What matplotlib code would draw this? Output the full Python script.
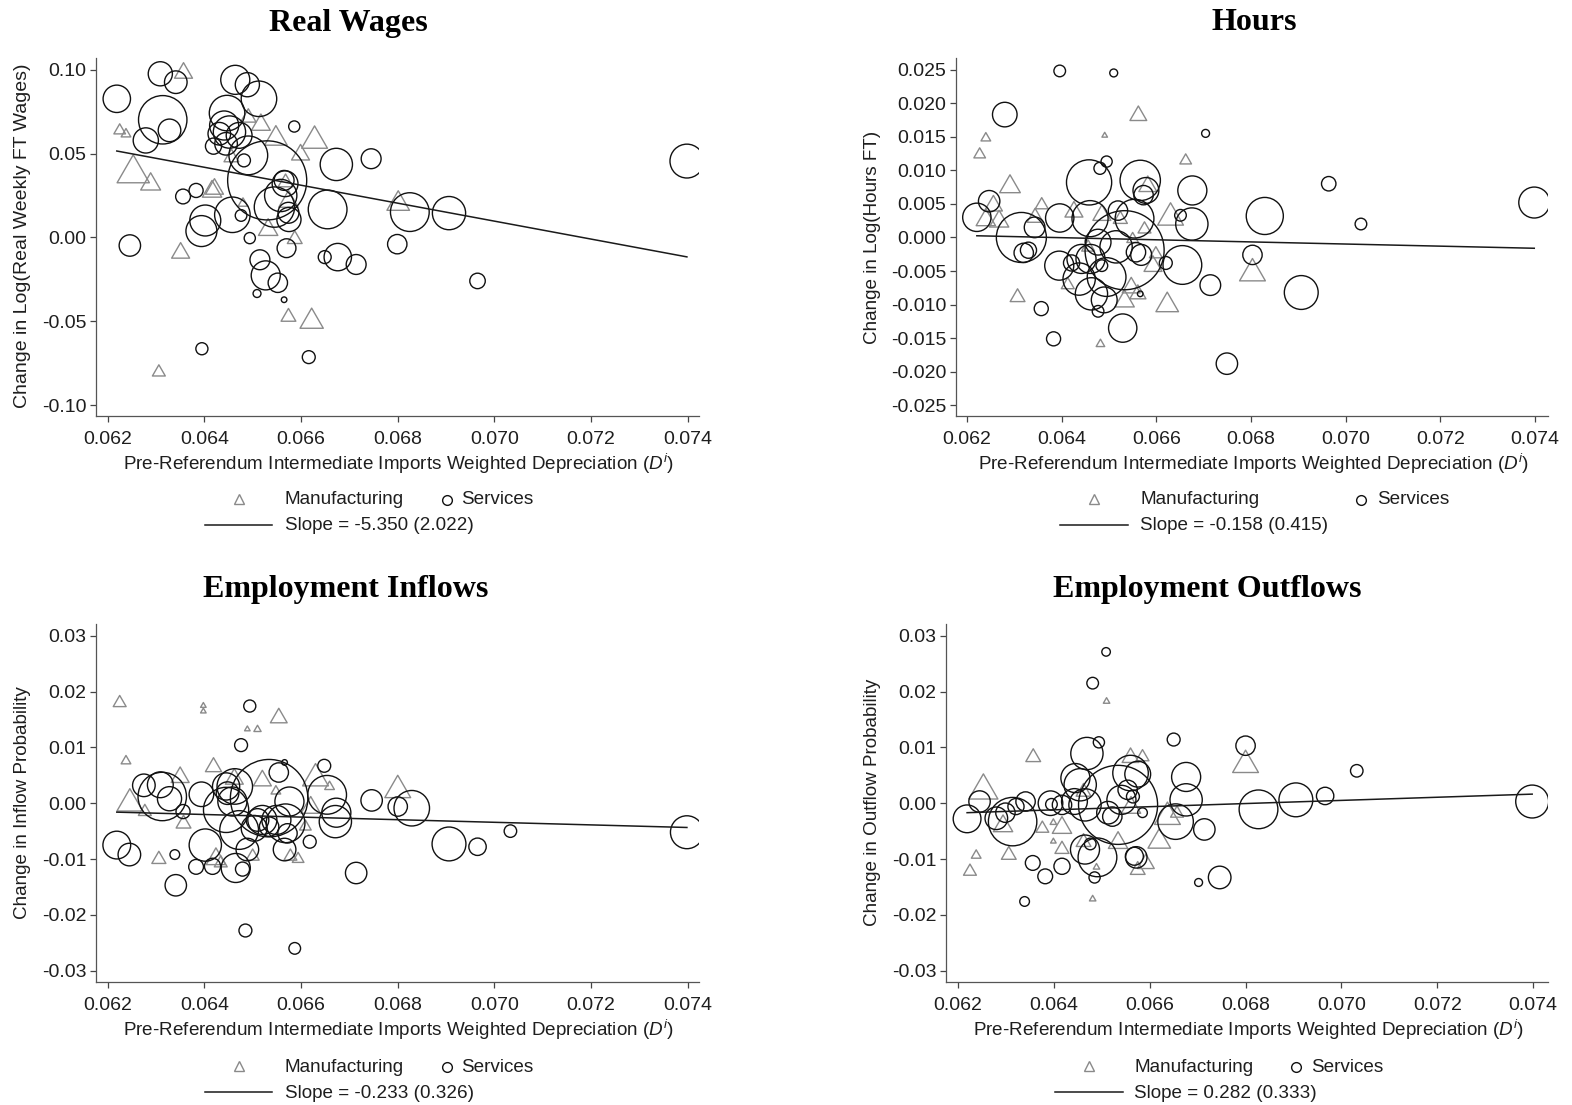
import matplotlib
matplotlib.use('Agg')
import matplotlib.pyplot as plt
import numpy as np
from matplotlib.lines import Line2D
from matplotlib.path import Path

plt.rcParams['font.family'] = ['Liberation Sans', 'DejaVu Sans']
plt.rcParams['mathtext.fontset'] = 'custom'
plt.rcParams['mathtext.rm'] = 'Liberation Sans'
plt.rcParams['mathtext.it'] = 'Liberation Sans:italic'

W, H = 1572, 1105

# ---------------- Real Wages ----------------
wage_svc_x = [0.06219, 0.06309, 0.06341, 0.06314, 0.06328, 0.06279, 0.06246, 0.06356, 0.06383, 0.06402,
              0.06394, 0.06395, 0.06419, 0.06464, 0.06489, 0.06513, 0.06447, 0.06441, 0.06452, 0.06431,
              0.06472, 0.06445, 0.06482, 0.06491, 0.06530, 0.06458, 0.06476, 0.06494, 0.06545, 0.06567,
              0.06565, 0.06558, 0.06575, 0.06574, 0.06570, 0.06586, 0.06515, 0.06527, 0.06552, 0.06509,
              0.06565, 0.06616, 0.06655, 0.06673, 0.06745, 0.06649, 0.06676, 0.06714, 0.06799, 0.06825,
              0.06906, 0.06965, 0.07398]
wage_svc_y = [0.0826, 0.0975, 0.0925, 0.0701, 0.0638, 0.0578, -0.0048, 0.0244, 0.0280, 0.0101,
              0.0038, -0.0663, 0.0544, 0.0939, 0.0910, 0.0826, 0.0741, 0.0667, 0.0628, 0.0618,
              0.0608, 0.0558, 0.0459, 0.0489, 0.0340, 0.0135, 0.0131, -0.0004, 0.0181, 0.0320,
              0.0340, 0.0250, 0.0107, 0.0147, -0.0064, 0.0661, -0.0133, -0.0226, -0.0270, -0.0334,
              -0.0371, -0.0713, 0.0167, 0.0435, 0.0469, -0.0117, -0.0117, -0.0161, -0.0040, 0.0151,
              0.0145, -0.0259, 0.0455]
wage_svc_w = [72, 56, 49, 225, 49, 61, 44, 21, 19, 92,
              92, 14, 25, 81, 56, 121, 121, 81, 100, 49,
              64, 49, 16, 144, 600, 121, 13, 12, 156, 64,
              38, 100, 56, 42, 34, 12, 38, 81, 36, 6,
              3, 16, 144, 100, 38, 16, 72, 38, 36, 144,
              106, 23, 110]
wage_mfg_x = [0.06225, 0.06238, 0.06253, 0.06289, 0.06357, 0.06351, 0.06421, 0.06416, 0.06306, 0.06491,
              0.06517, 0.06548, 0.06628, 0.06599, 0.06568, 0.06574, 0.06532, 0.06587, 0.06574, 0.06622,
              0.06456, 0.06801, 0.06480]
wage_mfg_y = [0.0647, 0.0624, 0.0409, 0.0334, 0.0995, -0.0077, 0.0304, 0.0290, -0.0792, 0.0727,
              0.0687, 0.0608, 0.0598, 0.0508, 0.0340, 0.0230, 0.0062, 0.0002, -0.0461, -0.0481,
              0.0489, 0.0220, 0.0211]
wage_mfg_w = [13, 9, 100, 38, 31, 31, 31, 36, 16, 23,
              34, 49, 64, 31, 21, 36, 36, 21, 21, 52,
              21, 49, 9]

# ---------------- Hours ----------------
hours_svc_x = [0.06396, 0.06510, 0.06280, 0.06704, 0.06221, 0.06247, 0.06315, 0.06343, 0.06320, 0.06330,
               0.06357, 0.06383, 0.06396, 0.06458, 0.06481, 0.06495, 0.06460, 0.06566, 0.06578, 0.06573,
               0.06519, 0.06554, 0.06676, 0.06675, 0.06651, 0.06533, 0.06477, 0.06461, 0.06395, 0.06421,
               0.06442, 0.06437, 0.06463, 0.06490, 0.06477, 0.06495, 0.06485, 0.06515, 0.06557, 0.06568,
               0.06620, 0.06655, 0.06714, 0.06529, 0.06566, 0.06749, 0.06803, 0.06829, 0.06964, 0.07032,
               0.07398, 0.06906]
hours_svc_y = [0.0248, 0.0245, 0.0183, 0.0155, 0.0030, 0.0054, 0.0000, 0.0015, -0.0023, -0.0019,
               -0.0106, -0.0151, 0.0029, 0.0082, 0.0103, 0.0113, 0.0028, 0.0085, 0.0070, 0.0063,
               0.0040, 0.0028, 0.0070, 0.0020, 0.0033, -0.0019, -0.0007, -0.0032, -0.0042, -0.0038,
               -0.0032, -0.0062, -0.0084, -0.0093, -0.0110, -0.0059, -0.0042, -0.0014, -0.0022, -0.0026,
               -0.0038, -0.0041, -0.0071, -0.0135, -0.0084, -0.0188, -0.0026, 0.0032, 0.0080, 0.0020,
               0.0052, -0.0082]
hours_svc_w = [13, 6, 58, 6, 77, 44, 240, 41, 36, 25,
               19, 19, 77, 196, 14, 12, 125, 156, 64, 36,
               36, 144, 81, 100, 13, 600, 64, 81, 81, 25,
               81, 100, 100, 64, 13, 144, 13, 100, 36, 42,
               16, 144, 41, 77, 3, 44, 36, 132, 20, 13,
               92, 110]
hours_mfg_x = [0.06227, 0.06240, 0.06291, 0.06256, 0.06240, 0.06268, 0.06358, 0.06344, 0.06307, 0.06491,
               0.06562, 0.06662, 0.06630, 0.06582, 0.06575, 0.06426, 0.06485, 0.06524, 0.06599, 0.06593,
               0.06413, 0.06547, 0.06533, 0.06561, 0.06623, 0.06482, 0.06803, 0.06456, 0.06550]
hours_mfg_y = [0.0126, 0.0150, 0.0080, 0.0051, 0.0030, 0.0028, 0.0051, 0.0033, -0.0086, 0.0153,
               0.0185, 0.0117, 0.0035, 0.0080, 0.0015, 0.0042, 0.0037, 0.0030, -0.0022, -0.0039,
               -0.0068, -0.0071, -0.0091, -0.0081, -0.0096, -0.0157, -0.0048, -0.0012, 0.0000]
hours_mfg_w = [13, 9, 41, 31, 36, 36, 16, 25, 21, 3,
               27, 13, 64, 31, 16, 31, 31, 19, 16, 31,
               16, 31, 36, 25, 49, 7, 64, 16, 13]

# ---------------- Employment Inflows ----------------
inflow_svc_x = [0.06219, 0.06245, 0.06275, 0.06309, 0.06313, 0.06328, 0.06356, 0.06339, 0.06341, 0.06394,
                0.06402, 0.06383, 0.06417, 0.06445, 0.06463, 0.06448, 0.06445, 0.06458, 0.06476, 0.06494,
                0.06554, 0.06566, 0.06534, 0.06465, 0.06479, 0.06472, 0.06489, 0.06510, 0.06503, 0.06520,
                0.06534, 0.06549, 0.06568, 0.06566, 0.06576, 0.06572, 0.06618, 0.06648, 0.06654, 0.06673,
                0.06671, 0.06714, 0.06746, 0.06800, 0.06829, 0.06485, 0.06587, 0.06906, 0.06965, 0.07033,
                0.07398]
inflow_svc_y = [-0.0075, -0.0092, 0.0032, 0.0033, 0.0012, 0.0008, -0.0015, -0.0092, -0.0147, 0.0016,
                -0.0075, -0.0114, -0.0113, 0.0030, 0.0030, 0.0018, -0.0012, 0.0003, 0.0104, 0.0174,
                0.0055, 0.0073, 0.0009, -0.0116, -0.0118, -0.0048, -0.0083, -0.0030, -0.0045, -0.0030,
                -0.0042, -0.0030, -0.0036, -0.0083, 0.0003, -0.0054, -0.0069, 0.0067, 0.0015, -0.0017,
                -0.0033, -0.0125, 0.0005, -0.0006, -0.0009, -0.0228, -0.0260, -0.0073, -0.0078, -0.0050,
                -0.0052]
inflow_svc_w = [74, 49, 49, 64, 225, 56, 19, 9, 44, 58,
                100, 21, 25, 71, 121, 49, 196, 81, 16, 14,
                36, 3, 576, 81, 19, 144, 49, 49, 64, 81,
                36, 81, 144, 49, 81, 36, 16, 16, 144, 81,
                100, 44, 44, 36, 121, 16, 13, 110, 29, 15,
                104]
inflow_mfg_x = [0.06225, 0.06238, 0.06246, 0.06277, 0.06350, 0.06357, 0.06306, 0.06398, 0.06398, 0.06419,
                0.06489, 0.06510, 0.06554, 0.06462, 0.06520, 0.06548, 0.06630, 0.06659, 0.06620, 0.06609,
                0.06424, 0.06434, 0.06578, 0.06594, 0.06800, 0.06500]
inflow_mfg_y = [0.0183, 0.0078, 0.0006, -0.0012, 0.0051, -0.0033, -0.0097, 0.0176, 0.0166, 0.0069,
                0.0134, 0.0134, 0.0157, 0.0048, 0.0045, 0.0024, 0.0051, 0.0032, -0.0003, -0.0039,
                -0.0095, -0.0104, -0.0092, -0.0097, 0.0030, -0.0092]
inflow_mfg_w = [16, 9, 64, 16, 31, 21, 19, 3, 3, 25,
                3, 5, 27, 31, 31, 9, 64, 9, 36, 13,
                36, 16, 16, 13, 64, 16]

# ---------------- Employment Outflows ----------------
outflow_svc_x = [0.06219, 0.06245, 0.06280, 0.06299, 0.06314, 0.06321, 0.06341, 0.06356, 0.06382, 0.06339,
                 0.06393, 0.06395, 0.06417, 0.06417, 0.06445, 0.06455, 0.06443, 0.06469, 0.06494, 0.06481,
                 0.06509, 0.06465, 0.06534, 0.06465, 0.06476, 0.06491, 0.06485, 0.06513, 0.06522, 0.06541,
                 0.06554, 0.06565, 0.06560, 0.06575, 0.06585, 0.06572, 0.06568, 0.06650, 0.06676, 0.06676,
                 0.06654, 0.06714, 0.06702, 0.06746, 0.06800, 0.06827, 0.06905, 0.06966, 0.07032, 0.07398]
outflow_svc_y = [-0.0028, 0.0003, -0.0027, -0.0017, -0.0033, -0.0006, 0.0003, -0.0107, -0.0131, -0.0176,
                 0.0000, -0.0002, -0.0113, -0.0003, 0.0045, 0.0033, 0.0003, 0.0089, 0.0109, 0.0215,
                 0.0271, -0.0003, -0.0003, -0.0083, -0.0073, -0.0097, -0.0133, -0.0017, -0.0024, 0.0006,
                 0.0024, 0.0012, 0.0054, 0.0052, -0.0017, -0.0097, -0.0095, 0.0114, 0.0047, 0.0006,
                 -0.0033, -0.0047, -0.0142, -0.0133, 0.0103, -0.0011, 0.0006, 0.0013, 0.0058, 0.0003]
outflow_svc_w = [74, 44, 49, 36, 225, 25, 36, 21, 21, 9,
                 58, 13, 25, 36, 81, 100, 64, 100, 12, 13,
                 7, 100, 600, 81, 13, 144, 12, 49, 36, 81,
                 36, 16, 121, 64, 9, 44, 31, 16, 81, 100,
                 121, 44, 6, 49, 36, 144, 110, 29, 15, 104]
outflow_mfg_x = [0.06253, 0.06225, 0.06238, 0.06294, 0.06306, 0.06357, 0.06399, 0.06399, 0.06417, 0.06417,
                 0.06462, 0.06462, 0.06510, 0.06489, 0.06481, 0.06560, 0.06585, 0.06534, 0.06575, 0.06592,
                 0.06620, 0.06637, 0.06657, 0.06800, 0.06561, 0.06376]
outflow_mfg_y = [0.0030, -0.0119, -0.0091, -0.0036, -0.0089, 0.0086, -0.0033, -0.0067, -0.0079, -0.0039,
                 0.0024, -0.0066, 0.0184, -0.0113, -0.0170, 0.0086, 0.0086, -0.0066, -0.0116, -0.0104,
                 -0.0063, -0.0018, -0.0015, 0.0075, -0.0003, -0.0042]
outflow_mfg_w = [81, 16, 9, 36, 21, 21, 4, 3, 19, 36,
                 21, 21, 4, 4, 4, 27, 16, 36, 21, 27,
                 49, 64, 16, 64, 36, 16]

# fitted slopes (standard errors) and fitted value at the lowest x
slopes = [-5.350, -0.158, -0.233, 0.282]
slope_se = [2.022, 0.415, 0.326, 0.333]
fit_start = [0.0515, 0.00025, -0.0016, -0.0017]

titles = ['Real Wages', 'Hours', 'Employment Inflows', 'Employment Outflows']
ylabels = ['Change in Log(Real Weekly FT Wages)', 'Change in Log(Hours FT)',
           'Change in Inflow Probability', 'Change in Outflow Probability']
xticks = [0.062, 0.064, 0.066, 0.068, 0.070, 0.072, 0.074]
yticks = [[-0.10, -0.05, 0.00, 0.05, 0.10],
          [-0.025, -0.020, -0.015, -0.010, -0.005, 0.000, 0.005, 0.010, 0.015, 0.020, 0.025],
          [-0.03, -0.02, -0.01, 0.00, 0.01, 0.02, 0.03],
          [-0.03, -0.02, -0.01, 0.00, 0.01, 0.02, 0.03]]
ytick_fmt = ['{:.2f}', '{:.3f}', '{:.2f}', '{:.2f}']

panels = [(wage_svc_x, wage_svc_y, wage_svc_w, wage_mfg_x, wage_mfg_y, wage_mfg_w),
          (hours_svc_x, hours_svc_y, hours_svc_w, hours_mfg_x, hours_mfg_y, hours_mfg_w),
          (inflow_svc_x, inflow_svc_y, inflow_svc_w, inflow_mfg_x, inflow_mfg_y, inflow_mfg_w),
          (outflow_svc_x, outflow_svc_y, outflow_svc_w, outflow_mfg_x, outflow_mfg_y, outflow_mfg_w)]

# layout in pixels: axes box (left, top, right, bottom) and axis limits
boxes = [(96, 58, 699, 416), (956, 58, 1548, 416), (96, 624, 699, 982), (946, 624, 1548, 982)]
xlims = [(0.06176, 0.07423), (0.06177, 0.07427), (0.06176, 0.07423), (0.06175, 0.07431)]
ylims = [(-0.10637, 0.10691), (-0.026594, 0.026728), (-0.032022, 0.032094), (-0.032022, 0.032094)]

title_pos = [(348, 23), (1254, 23), (346, 589), (1207, 589)]
ylabel_pos = [(23, 236), (873, 237), (23, 803), (873, 802)]
ylabel_size = [14.0, 13.6, 13.6, 13.6]
xlabel_pos = [(399, 464), (1254, 464), (399, 1030), (1249, 1030)]
# legend: triangle x, text x, circle x, text x, line x0, line x1, row y
legend_pos = [(239, 285, 447, 461, 205, 272, 499),
              (1094, 1140, 1361, 1377, 1060, 1128, 499),
              (239, 285, 447, 461, 205, 272, 1066),
              (1089, 1134, 1296, 1311, 1055, 1123, 1066)]

GRAY = '#8a8a8a'
INK = '#111111'
TXT = '#1e1e1e'
FS = 13.6
tri = Path([(-1, -0.866), (1, -0.866), (0, 0.866), (-1, -0.866)],
           [Path.MOVETO, Path.LINETO, Path.LINETO, Path.CLOSEPOLY])


def fx(x):
    return x / W


def fy(y):
    return 1 - y / H


fig = plt.figure(figsize=(W / 100, H / 100), dpi=100)

for i, (sx, sy, sw, mx, my, mw) in enumerate(panels):
    l, t, r, b = boxes[i]
    ax = fig.add_axes([fx(l), fy(b), (r - l) / W, (b - t) / H])

    ax.scatter(mx, my, s=np.array(mw) * 5.4, marker=tri, facecolors='none',
               edgecolors=GRAY, linewidths=1.0, zorder=2)
    ax.scatter(sx, sy, s=np.array(sw) * 5.4, marker='o', facecolors='none',
               edgecolors=INK, linewidths=1.0, zorder=3)

    allx = np.array(sx + mx)
    x0, x1 = allx.min(), allx.max()
    ax.plot([x0, x1], [fit_start[i], fit_start[i] + slopes[i] * (x1 - x0)],
            color='#1a1a1a', lw=1.1, zorder=4)

    ax.set_xlim(*xlims[i])
    ax.set_ylim(*ylims[i])
    ax.set_xticks(xticks)
    ax.set_xticklabels(['{:.3f}'.format(v) for v in xticks])
    ax.set_yticks(yticks[i])
    ax.set_yticklabels([ytick_fmt[i].format(v) for v in yticks[i]])
    ax.tick_params(axis='both', direction='out', length=4.5, width=0.9, color='#444444',
                   labelsize=14, labelcolor=TXT)
    ax.tick_params(axis='x', pad=6.5)
    ax.tick_params(axis='y', pad=2.5)
    for side in ['top', 'right']:
        ax.spines[side].set_visible(False)
    for side in ['left', 'bottom']:
        ax.spines[side].set_color('#555555')
        ax.spines[side].set_linewidth(0.9)

    fig.text(fx(title_pos[i][0]), fy(title_pos[i][1]), titles[i], ha='center', va='center',
             fontsize=23, fontweight='bold', family='Liberation Serif')
    fig.text(fx(ylabel_pos[i][0]), fy(ylabel_pos[i][1]), ylabels[i], ha='center', va='center',
             rotation=90, fontsize=ylabel_size[i], color=TXT)
    fig.text(fx(xlabel_pos[i][0]), fy(xlabel_pos[i][1]),
             r'Pre-Referendum Intermediate Imports Weighted Depreciation ($D^{i}$)',
             ha='center', va='center', fontsize=FS, color=TXT)

    # legend below the panel
    tx, t1x, cx, t2x, lx0, lx1, ry = legend_pos[i]
    r2 = ry + 26
    fig.add_artist(Line2D([fx(tx)], [fy(ry)], marker='^', markersize=7, markerfacecolor='none',
                          markeredgecolor=GRAY, markeredgewidth=1.0, linestyle='none'))
    fig.text(fx(t1x), fy(ry + 1), 'Manufacturing', ha='left', va='center', fontsize=FS, color=TXT)
    fig.add_artist(Line2D([fx(cx)], [fy(ry + 1)], marker='o', markersize=7, markerfacecolor='none',
                          markeredgecolor=INK, markeredgewidth=1.0, linestyle='none'))
    fig.text(fx(t2x), fy(ry + 1), 'Services', ha='left', va='center', fontsize=FS, color=TXT)
    fig.add_artist(Line2D([fx(lx0), fx(lx1)], [fy(r2), fy(r2)], color='#1a1a1a', lw=1.1))
    fig.text(fx(t1x), fy(r2 + 1), 'Slope = {:.3f} ({:.3f})'.format(slopes[i], slope_se[i]),
             ha='left', va='center', fontsize=FS, color=TXT)

fig.savefig('out.png', dpi=100, facecolor='white')
